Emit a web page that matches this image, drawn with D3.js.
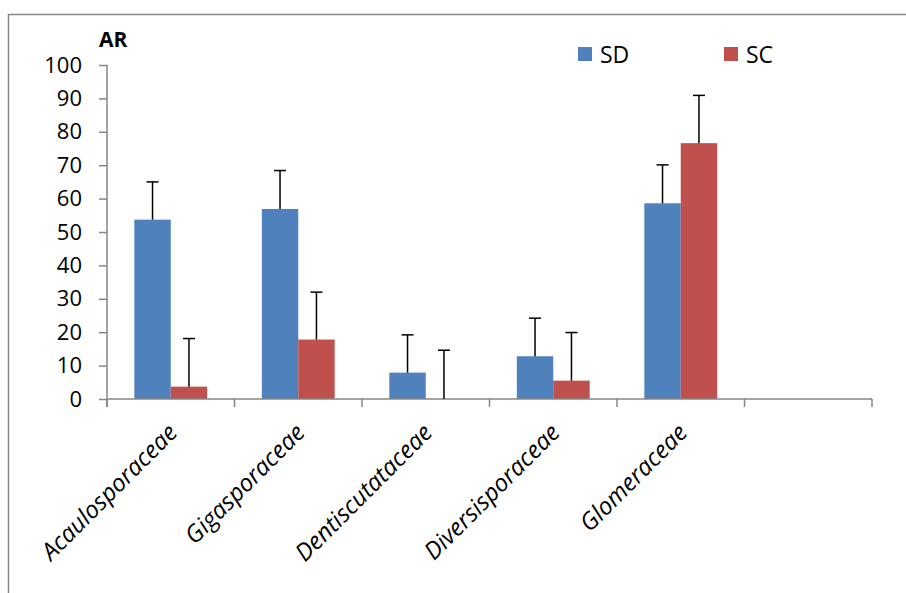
<!DOCTYPE html>
<html>
<head>
<meta charset="utf-8">
<script src="https://cdn.jsdelivr.net/npm/d3@7"></script>
<style>
  html, body { margin: 0; padding: 0; background: #fff; }
  svg { display: block; font-family: "Open Sans", "Noto Sans", sans-serif; }
</style>
</head>
<body>
<svg id="chart" width="906" height="593"></svg>
<script>
// Families (the sixth slot is left empty on purpose)
const categories = ["Acaulosporaceae", "Gigasporaceae", "Dentiscutataceae", "Diversisporaceae", "Glomeraceae", ""];
const seriesNames = ["SD", "SC"];
const sdValues = [53.7, 56.9, 7.9, 12.8, 58.6];
const sdErrors = [11.3, 11.5, 11.3, 11.4, 11.5];
const scValues = [3.7, 17.8, 0, 5.5, 76.6];
const scErrors = [14.4, 14.2, 14.6, 14.4, 14.3];
const yTicks = [0, 10, 20, 30, 40, 50, 60, 70, 80, 90, 100];
const yTitle = "AR";

const colors = { SD: "#4F81BD", SC: "#C0504D" };
const axisGray = "#868686";

const svg = d3.select("#chart");

// Outer chart-area frame
svg.append("rect")
  .attr("x", 8.5).attr("y", 14.5)
  .attr("width", 940).attr("height", 620)
  .attr("fill", "none").attr("stroke", axisGray).attr("stroke-width", 1.5);

const x = d3.scaleBand().domain(d3.range(categories.length)).range([107, 872]).paddingInner(0).paddingOuter(0);
const y = d3.scaleLinear().domain([0, 100]).range([399, 65]);

// Bars: gap width 150% -> each bar is step / 3.5 wide
const barW = x.bandwidth() / 3.5;
const series = [
  { name: "SD", values: sdValues, errors: sdErrors, offset: 0.75 },
  { name: "SC", values: scValues, errors: scErrors, offset: 1.75 }
];

const barsG = svg.append("g");
series.forEach(s => {
  const rows = s.values.map((v, i) => ({ i, v, e: s.errors[i] }));
  barsG.selectAll(null).data(rows).enter().append("rect")
    .attr("x", d => x(d.i) + s.offset * barW)
    .attr("y", d => y(d.v))
    .attr("width", barW)
    .attr("height", d => y(0) - y(d.v))
    .attr("fill", colors[s.name]);
});

// Y axis
const yAxis = svg.append("g").attr("transform", "translate(107,0)")
  .call(d3.axisLeft(y).tickValues(yTicks).tickSize(8).tickPadding(17).tickFormat(d3.format("d")));
yAxis.select(".domain").attr("stroke", axisGray).attr("stroke-width", 1.5).attr("d", `M0,${y(100)}V${y(0) + 8}`);
yAxis.selectAll(".tick line").attr("stroke", axisGray).attr("stroke-width", 1.5);
yAxis.selectAll(".tick text").attr("fill", "#000").style("font-size", "22px").style("font-family", "'Open Sans', sans-serif");

// X axis line with ticks at category boundaries
const xAxisG = svg.append("g");
const [x0, x1] = x.range();
xAxisG.append("line")
  .attr("x1", x0).attr("x2", x1).attr("y1", y(0)).attr("y2", y(0))
  .attr("stroke", axisGray).attr("stroke-width", 1.5);
const bounds = d3.range(categories.length + 1).map(i => x0 + i * x.step());
xAxisG.selectAll(null).data(bounds).enter().append("line")
  .attr("x1", d => d).attr("x2", d => d)
  .attr("y1", y(0)).attr("y2", y(0) + 8)
  .attr("stroke", axisGray).attr("stroke-width", 1.5);

// Error bars (plus direction only)
const errG = svg.append("g");
series.forEach(s => {
  s.values.forEach((v, i) => {
    const cx = x(i) + s.offset * barW + barW / 2;
    const top = y(v + s.errors[i]);
    errG.append("line").attr("x1", cx).attr("x2", cx).attr("y1", y(v)).attr("y2", top)
      .attr("stroke", "#000").attr("stroke-width", 1.5);
    errG.append("line").attr("x1", cx - 6).attr("x2", cx + 6).attr("y1", top).attr("y2", top)
      .attr("stroke", "#000").attr("stroke-width", 1.5);
  });
});

// Category labels, rotated 45 degrees and anchored at their end
svg.append("g").selectAll(null).data(categories.map((c, i) => ({ c, i })).filter(d => d.c)).enter()
  .append("text")
  .attr("transform", d => `translate(${x(d.i) + x.bandwidth() / 2 + 8},${y(0) + 35}) rotate(-45)`)
  .attr("text-anchor", "end")
  .style("font-size", "24px")
  .style("font-style", "italic")
  .attr("fill", "#000")
  .text(d => d.c);

// Axis title
svg.append("text").attr("x", 99).attr("y", 47)
  .style("font-size", "21px").style("font-weight", "bold").attr("fill", "#000")
  .text(yTitle);

// Legend
const legendX = [578, 724];
const legend = svg.append("g");
seriesNames.forEach((n, k) => {
  legend.append("rect").attr("x", legendX[k]).attr("y", 47).attr("width", 14).attr("height", 14).attr("fill", colors[n]);
  legend.append("text").attr("x", legendX[k] + 22).attr("y", 63)
    .style("font-size", "23px").attr("fill", "#000").text(n);
});
</script>
</body>
</html>
